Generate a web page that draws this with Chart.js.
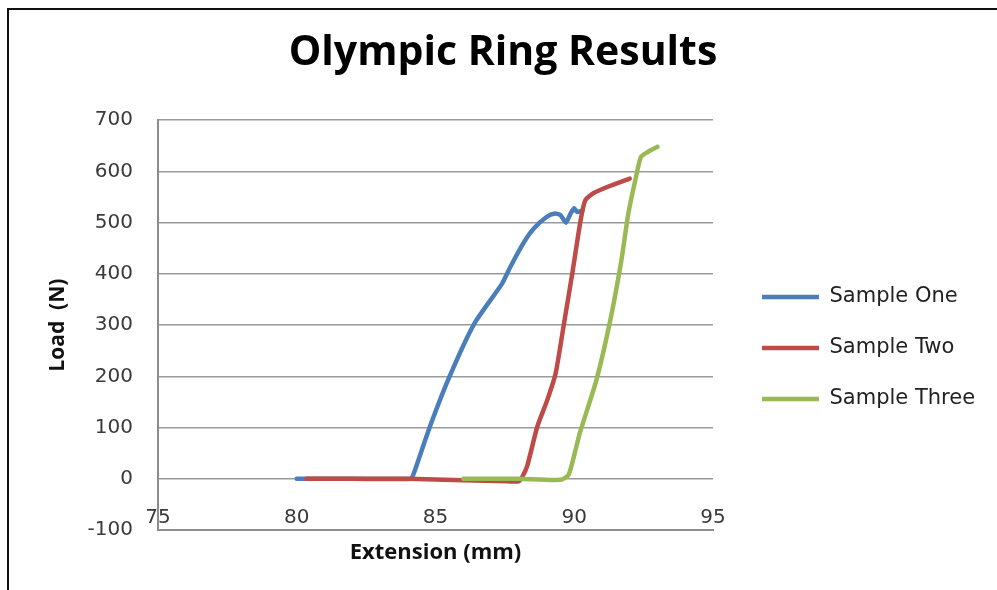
<!DOCTYPE html>
<html>
<head>
<meta charset="utf-8">
<script src="https://cdn.jsdelivr.net/npm/chart.js@4"></script>
<style>
  html, body { margin: 0; padding: 0; background: #fff; }
  #wrap { position: relative; width: 997px; height: 590px; }
  #frame { position: absolute; left: 7px; top: 8px; right: 0; bottom: 0;
           border-top: 2px solid #111; border-left: 2px solid #111; pointer-events: none; }
</style>
</head>
<body>
<div id="wrap">
  <canvas id="ringChart" width="997" height="590"></canvas>
  <div id="frame"></div>
</div>
<script>
// Olympic ring tensile test: load vs extension for three samples
const sampleOneX = [80, 82, 84.1, 84.2, 84.8, 85.5, 86.4, 87.4, 87.7, 88.2, 88.55, 89.0, 89.3, 89.5, 89.7, 89.87, 90.0, 90.1, 90.3];
const sampleOneY = [0, 0, 0, 8, 102, 199, 303, 381, 414, 463, 489, 511, 518, 515, 500, 518, 528, 521, 524];

const sampleTwoX = [80.35, 82, 84, 86.0, 87.6, 88.0, 88.13, 88.3, 88.67, 89.03, 89.33, 89.63, 89.93, 90.23, 90.4, 90.7, 91.3, 92.0];
const sampleTwoY = [0, 0, 0, -3, -5, -5, 4, 24, 102, 154, 206, 303, 401, 505, 544, 558, 572, 586];

const sampleThreeX = [86.0, 88, 89.5, 89.8, 90.2, 90.8, 91.3, 91.7, 91.95, 92.2, 92.4, 92.65, 93.0];
const sampleThreeY = [0, 0, -2, 8, 89, 193, 310, 427, 518, 583, 628, 638, 648];

const seriesNames = ['Sample One', 'Sample Two', 'Sample Three'];
const xTicks = [75, 80, 85, 90, 95];
const yTicks = [-100, 0, 100, 200, 300, 400, 500, 600, 700];

// nudge the legend block and the title (Excel places them a little differently)
const LEGEND_DX = 19;
const LEGEND_DY = 53;
const TITLE_DX = 25;

function toPoints(xs, ys) {
    return xs.map((x, i) => ({ x: x, y: ys[i] }));
}

function lineSet(name, xs, ys, color, order) {
    return {
        label: name,
        data: toPoints(xs, ys),
        showLine: true,
        borderColor: color,
        backgroundColor: color,
        borderWidth: 4.5,
        pointRadius: 0,
        tension: 0.2,
        borderCapStyle: 'round',
        borderJoinStyle: 'round',
        fill: false,
        order: order
    };
}

const boxShift = {
    id: 'boxShift',
    afterLayout(chart) {
        const lg = chart.legend;
        lg.left += LEGEND_DX;
        lg.right += LEGEND_DX + 40; // room for the long label
        lg.width = lg.right - lg.left;
        lg.top += LEGEND_DY; lg.bottom += LEGEND_DY;
        const tb = chart.titleBlock;
        tb.left += TITLE_DX; tb.right += TITLE_DX;
    }
};

const tickFont = { family: 'DejaVu Sans', size: 20 };

const ctx = document.getElementById('ringChart').getContext('2d');
const ringChart = new Chart(ctx, {
    type: 'scatter',
    data: {
        datasets: [
            lineSet(seriesNames[0], sampleOneX, sampleOneY, '#4a7ebb', 2),
            lineSet(seriesNames[1], sampleTwoX, sampleTwoY, '#be4b48', 1),
            lineSet(seriesNames[2], sampleThreeX, sampleThreeY, '#98b954', 0)
        ]
    },
    plugins: [boxShift],
    options: {
        responsive: false,
        animation: false,
        layout: { padding: { left: 8, right: 49, top: 0, bottom: 0 } },
        plugins: {
            title: {
                display: true,
                text: 'Olympic Ring Results',
                color: '#000',
                font: { family: 'Open Sans', size: 41, weight: 'bold' },
                padding: { top: 29, bottom: 42 }
            },
            legend: {
                display: true,
                position: 'right',
                labels: {
                    usePointStyle: true,
                    pointStyle: 'line',
                    pointStyleWidth: 57,
                    color: '#222',
                    font: { family: 'DejaVu Sans', size: 21 },
                    padding: 30,
                    sort: (a, b) => a.datasetIndex - b.datasetIndex
                }
            },
            tooltip: { enabled: false }
        },
        scales: {
            x: {
                type: 'linear',
                min: xTicks[0],
                max: xTicks[xTicks.length - 1],
                afterBuildTicks: s => { s.ticks = xTicks.map(v => ({ value: v })); },
                afterFit: s => { s.height = 60; },
                grid: { display: false },
                border: { display: true, color: '#8c8c8c', width: 2 },
                ticks: { color: '#3a3a3a', font: tickFont, mirror: true, padding: 0, maxRotation: 0 },
                title: {
                    display: true,
                    text: 'Extension (mm)',
                    color: '#111',
                    font: { family: 'Open Sans', size: 22, weight: 'bold' },
                    padding: { top: 0, bottom: 24 }
                }
            },
            y: {
                type: 'linear',
                min: yTicks[0],
                max: yTicks[yTicks.length - 1],
                afterBuildTicks: s => { s.ticks = yTicks.map(v => ({ value: v })); },
                afterFit: s => { s.width = 150; },
                grid: { color: '#9a9a9a', lineWidth: 1.5, drawTicks: false },
                border: { display: true, color: '#8c8c8c', width: 2 },
                ticks: { color: '#3a3a3a', font: tickFont, padding: 25 },
                title: {
                    display: true,
                    text: 'Load  (N)',
                    color: '#111',
                    font: { family: 'Open Sans', size: 21, weight: 'bold' },
                    padding: { top: 37, bottom: 0 }
                }
            }
        }
    }
});
</script>
</body>
</html>
